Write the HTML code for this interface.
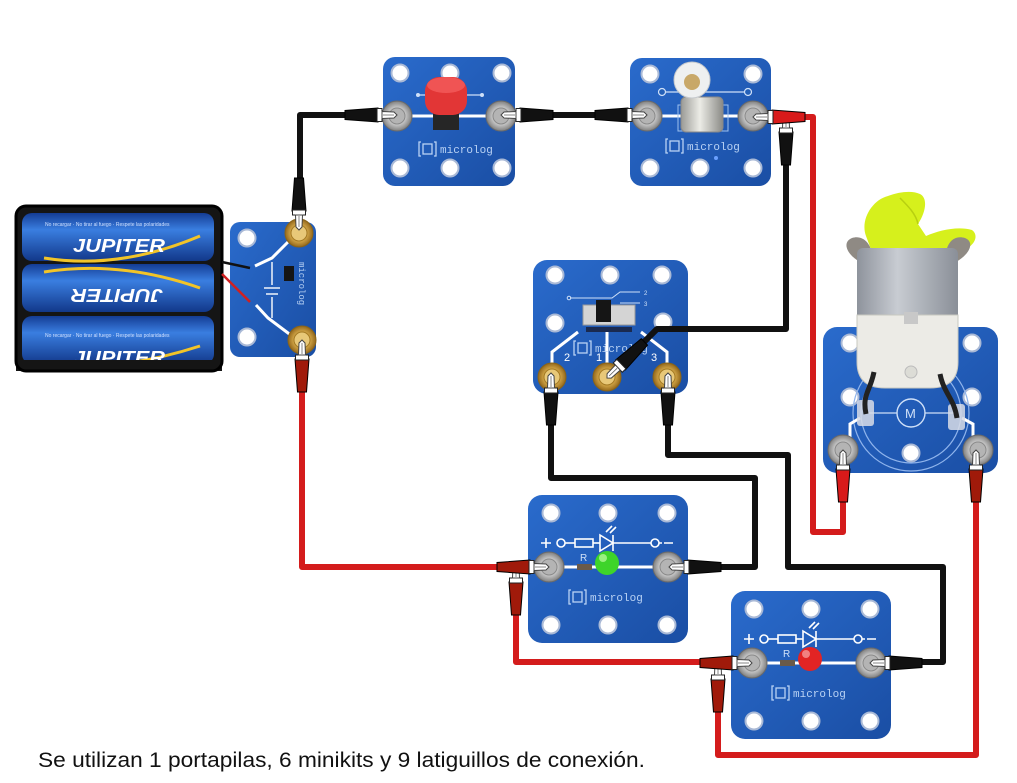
<!DOCTYPE html>
<html><head><meta charset="utf-8"><style>
html,body{margin:0;padding:0;background:#fff;}
svg{display:block;}
</style></head><body>
<svg width="1017" height="783" viewBox="0 0 1017 783" xmlns="http://www.w3.org/2000/svg" xmlns:xlink="http://www.w3.org/1999/xlink" font-family="Liberation Sans, sans-serif">
<defs>
 <linearGradient id="bl" x1="0" y1="0" x2="1" y2="1">
  <stop offset="0" stop-color="#2a6bcc"/><stop offset="1" stop-color="#1a4ea4"/>
 </linearGradient>
 <radialGradient id="silver"><stop offset="0" stop-color="#f2f2f2"/><stop offset="0.55" stop-color="#c9c9c9"/><stop offset="1" stop-color="#808080"/></radialGradient>
 <radialGradient id="gold"><stop offset="0" stop-color="#f6e0a0"/><stop offset="0.55" stop-color="#d6aa4a"/><stop offset="1" stop-color="#94681c"/></radialGradient>
 <linearGradient id="cell" x1="0" y1="0" x2="0" y2="1"><stop offset="0" stop-color="#143c94"/><stop offset="0.35" stop-color="#3a7ee0"/><stop offset="1" stop-color="#12388a"/></linearGradient>
 <linearGradient id="can" x1="0" y1="0" x2="1" y2="0"><stop offset="0" stop-color="#8e939c"/><stop offset="0.4" stop-color="#c8ccd2"/><stop offset="1" stop-color="#8a8f98"/></linearGradient>
 <linearGradient id="base" x1="0" y1="0" x2="1" y2="0"><stop offset="0" stop-color="#9a9a96"/><stop offset="0.45" stop-color="#ecece6"/><stop offset="1" stop-color="#8a8a86"/></linearGradient>

 <g id="pK">
  <polygon points="-19,-7 -52,-4.5 -52,4.5 -19,7" fill="#111" stroke="#000"/>
  <rect x="-20" y="-6.5" width="5" height="13" fill="#fff" stroke="#222" stroke-width="1"/>
  <path d="M-15,-3.5 L-3,-3 L0,0 L-3,3 L-15,3.5 Z" fill="#fff" stroke="#444" stroke-width="1"/>
  <line x1="-14" y1="0" x2="-3" y2="0" stroke="#666" stroke-width="0.8"/>
 </g>
 <g id="pR">
  <polygon points="-19,-7 -52,-4.5 -52,4.5 -19,7" fill="#d81a1a" stroke="#000"/>
  <rect x="-20" y="-6.5" width="5" height="13" fill="#fff" stroke="#222" stroke-width="1"/>
  <path d="M-15,-3.5 L-3,-3 L0,0 L-3,3 L-15,3.5 Z" fill="#fff" stroke="#444" stroke-width="1"/>
  <line x1="-14" y1="0" x2="-3" y2="0" stroke="#666" stroke-width="0.8"/>
 </g>
 <g id="pD">
  <polygon points="-19,-7 -52,-4.5 -52,4.5 -19,7" fill="#a01a0a" stroke="#000"/>
  <rect x="-20" y="-6.5" width="5" height="13" fill="#fff" stroke="#222" stroke-width="1"/>
  <path d="M-15,-3.5 L-3,-3 L0,0 L-3,3 L-15,3.5 Z" fill="#fff" stroke="#444" stroke-width="1"/>
  <line x1="-14" y1="0" x2="-3" y2="0" stroke="#666" stroke-width="0.8"/>
 </g>
 <g id="hole"><circle r="8.5" fill="#fff" stroke="#a9b9d6" stroke-width="2"/></g>
 <g id="tS"><circle r="15" fill="url(#silver)" stroke="#6a6a6a" stroke-width="1"/><circle r="8" fill="#b4b4b4" stroke="#8a8a8a"/></g>
 <g id="tG"><circle r="14" fill="url(#gold)" stroke="#8a6418" stroke-width="1"/><circle r="8" fill="#e8c878" stroke="#a47a24"/></g>
 <g id="logo">
  <rect x="3" y="-9" width="9" height="10" fill="none" stroke="#b9d2f4" stroke-width="1.3"/>
  <path d="M1,-11 L-1,-11 L-1,3 L1,3 M14,-11 L16,-11 L16,3 L14,3" fill="none" stroke="#b9d2f4" stroke-width="1.3"/>
  <text x="20" y="0" font-size="11" fill="#b9d2f4" font-family="Liberation Mono, monospace">microlog</text>
 </g>
 <g id="ledb">
  <rect x="0" y="0" width="160" height="148" rx="14" fill="url(#bl)"/>
  <use xlink:href="#hole" x="23" y="18"/><use xlink:href="#hole" x="80" y="18"/><use xlink:href="#hole" x="139" y="18"/>
  <use xlink:href="#hole" x="23" y="130"/><use xlink:href="#hole" x="80" y="130"/><use xlink:href="#hole" x="139" y="130"/>
  <g stroke="#fff" stroke-width="1.6" fill="none">
   <path d="M13,48 L23,48 M18,43 L18,53"/>
   <circle cx="33" cy="48" r="4"/>
   <path d="M37,48 L47,48"/>
   <rect x="47" y="44" width="18" height="8"/>
   <path d="M65,48 L72,48"/>
   <path d="M72,40 L72,56 L85,48 Z M85,40 L85,56 M78,37 L84,31 M82,38 L88,32"/>
   <path d="M85,48 L123,48"/>
   <circle cx="127" cy="48" r="4"/>
   <path d="M131,48 L134,48 M136,48 L145,48"/>
  </g>
  <text x="52" y="66" font-size="10" fill="#cfe0f8">R</text>
  <line x1="21" y1="72" x2="140" y2="72" stroke="#fff" stroke-width="3"/>
  <rect x="49" y="69" width="15" height="6" fill="#6a5a4a"/>
  <use xlink:href="#tS" x="21" y="72"/><use xlink:href="#tS" x="140" y="72"/>
  <use xlink:href="#logo" x="42" y="106"/>
 </g>
</defs>

<!-- Battery holder -->
<rect x="16" y="206" width="206" height="165" rx="10" fill="#151515"/>
<rect x="22" y="213" width="192" height="48" rx="10" fill="url(#cell)"/>
<rect x="22" y="264" width="192" height="48" rx="10" fill="url(#cell)"/>
<rect x="22" y="316" width="192" height="48" rx="10" fill="url(#cell)"/>
<text x="45" y="226" font-size="5" fill="#cfe0ff">No recargar · No tirar al fuego · Respete las polaridades</text>
<text x="45" y="337" font-size="5" fill="#cfe0ff">No recargar · No tirar al fuego · Respete las polaridades</text>
<path d="M44,258 Q120,270 200,236" stroke="#f2c428" stroke-width="3" fill="none"/>
<text x="73" y="252" font-size="18" font-weight="bold" font-style="italic" fill="#fff" textLength="92" lengthAdjust="spacingAndGlyphs">JUPITER</text>
<path d="M44,272 Q120,260 200,288" stroke="#f2c428" stroke-width="3" fill="none"/>
<text x="73" y="297" font-size="18" font-weight="bold" font-style="italic" fill="#fff" textLength="92" lengthAdjust="spacingAndGlyphs" transform="rotate(180 118 293)">JUPITER</text>
<text x="200" y="0" font-size="8" fill="#fff" transform="rotate(180 100 148)">+</text>
<path d="M44,366 Q120,372 200,346" stroke="#f2c428" stroke-width="3" fill="none"/>
<text x="73" y="364" font-size="18" font-weight="bold" font-style="italic" fill="#fff" textLength="92" lengthAdjust="spacingAndGlyphs">JUPITER</text>
<rect x="16" y="360" width="206" height="11" fill="#151515"/>
<rect x="16" y="206" width="206" height="165" rx="10" fill="none" stroke="#000" stroke-width="3"/>

<!-- Battery board -->
<rect x="230" y="222" width="86" height="135" rx="10" fill="url(#bl)"/>
<use xlink:href="#hole" x="247" y="238"/><use xlink:href="#hole" x="247" y="337"/>
<g stroke="#fff" stroke-width="3" fill="none">
 <polyline points="290,240 272,258 255,266"/>
 <polyline points="292,336 268,318 256,305"/>
</g>
<g stroke="#fff" stroke-width="1.4" fill="none">
 <line x1="272" y1="262" x2="272" y2="285"/><line x1="264" y1="288" x2="280" y2="288"/><line x1="266" y1="294" x2="278" y2="294"/><line x1="272" y1="297" x2="272" y2="318"/>
</g>
<rect x="284" y="266" width="10" height="15" fill="#151515"/>
<text x="0" y="0" font-size="9" fill="#b9d2f4" font-family="Liberation Mono, monospace" transform="translate(299,262) rotate(90)">microlog</text>
<path d="M222,262 L250,268" stroke="#111" stroke-width="2.5"/>
<path d="M222,274 L250,302" stroke="#d02020" stroke-width="2.5"/>
<use xlink:href="#tG" x="299" y="233"/><use xlink:href="#tG" x="302" y="340"/>

<!-- Push button board -->
<rect x="383" y="57" width="132" height="129" rx="12" fill="url(#bl)"/>
<use xlink:href="#hole" x="400" y="73"/><use xlink:href="#hole" x="450" y="73"/><use xlink:href="#hole" x="502" y="73"/>
<use xlink:href="#hole" x="400" y="168"/><use xlink:href="#hole" x="450" y="168"/><use xlink:href="#hole" x="502" y="168"/>
<line x1="418" y1="95" x2="482" y2="95" stroke="#cfe0f8" stroke-width="1.2"/>
<circle cx="418" cy="95" r="2" fill="#cfe0f8"/><circle cx="482" cy="95" r="2" fill="#cfe0f8"/>
<line x1="397" y1="116" x2="501" y2="116" stroke="#fff" stroke-width="3"/>
<rect x="433" y="108" width="26" height="22" fill="#262626"/>
<rect x="425" y="77" width="42" height="38" rx="14" fill="#e23636"/>
<ellipse cx="446" cy="85" rx="19" ry="8" fill="#f05454"/>
<use xlink:href="#tS" x="397" y="116"/><use xlink:href="#tS" x="501" y="116"/>
<use xlink:href="#logo" x="420" y="153"/>

<!-- Lamp board -->
<rect x="630" y="58" width="141" height="128" rx="12" fill="url(#bl)"/>
<use xlink:href="#hole" x="650" y="74"/><use xlink:href="#hole" x="753" y="74"/>
<use xlink:href="#hole" x="650" y="168"/><use xlink:href="#hole" x="700" y="168"/><use xlink:href="#hole" x="753" y="168"/>
<line x1="662" y1="92" x2="748" y2="92" stroke="#cfe0f8" stroke-width="1.2"/>
<circle cx="662" cy="92" r="3.5" fill="#2460b8" stroke="#cfe0f8" stroke-width="1.2"/>
<circle cx="748" cy="92" r="3.5" fill="#2460b8" stroke="#cfe0f8" stroke-width="1.2"/>
<line x1="647" y1="116" x2="753" y2="116" stroke="#fff" stroke-width="3"/>
<rect x="678" y="105" width="50" height="26" fill="none" stroke="#9cc0ee" stroke-width="1"/>
<rect x="681" y="97" width="42" height="35" rx="5" fill="url(#base)" stroke="#888"/>
<circle cx="692" cy="80" r="18" fill="#eef0f0" stroke="#c4c8cc"/>
<circle cx="692" cy="82" r="8" fill="#c8a868"/>
<use xlink:href="#tS" x="647" y="116"/><use xlink:href="#tS" x="753" y="116"/>
<use xlink:href="#logo" x="667" y="150"/>
<circle cx="716" cy="158" r="2" fill="#6aa0ff"/>

<!-- Switch board -->
<rect x="533" y="260" width="155" height="134" rx="14" fill="url(#bl)"/>
<use xlink:href="#hole" x="555" y="275"/><use xlink:href="#hole" x="610" y="275"/><use xlink:href="#hole" x="662" y="275"/>
<use xlink:href="#hole" x="555" y="323"/><use xlink:href="#hole" x="663" y="322"/>
<g stroke="#cfe0f8" stroke-width="1" fill="none">
 <path d="M570,298 L612,298 L620,292 L640,292"/>
 <path d="M620,303 L640,303"/>
 <circle cx="569" cy="298" r="1.8"/>
</g>
<text x="644" y="295" font-size="6" fill="#cfe0f8">2</text>
<text x="644" y="306" font-size="6" fill="#cfe0f8">3</text>
<rect x="583" y="305" width="52" height="20" fill="#d4d4d4" stroke="#999"/>
<rect x="596" y="300" width="15" height="22" fill="#151515"/>
<rect x="586" y="327" width="46" height="5" fill="#1a2a50"/>
<g stroke="#fff" stroke-width="3" fill="none">
 <polyline points="552,365 552,352 578,332"/>
 <polyline points="607,365 607,332"/>
 <polyline points="667,365 667,352 641,332"/>
</g>
<text x="564" y="361" font-size="11" fill="#fff">2</text>
<text x="596" y="361" font-size="11" fill="#fff">1</text>
<text x="651" y="361" font-size="11" fill="#fff">3</text>
<use xlink:href="#logo" x="575" y="352"/>
<use xlink:href="#tG" x="552" y="377"/><use xlink:href="#tG" x="607" y="377"/><use xlink:href="#tG" x="667" y="377"/>

<!-- LED boards -->
<use xlink:href="#ledb" x="528" y="495"/>
<circle cx="607" cy="563" r="12" fill="#3ed42a"/>
<circle cx="603" cy="558" r="4" fill="#9af080"/>
<use xlink:href="#ledb" x="731" y="591"/>
<circle cx="810" cy="659" r="12" fill="#e22424"/>
<circle cx="806" cy="654" r="4" fill="#f28080"/>

<!-- Motor board -->
<rect x="823" y="327" width="175" height="146" rx="14" fill="url(#bl)"/>
<use xlink:href="#hole" x="850" y="343"/><use xlink:href="#hole" x="972" y="343"/>
<use xlink:href="#hole" x="850" y="397"/><use xlink:href="#hole" x="972" y="397"/>
<use xlink:href="#hole" x="911" y="453"/>
<circle cx="911" cy="413" r="58" fill="none" stroke="#8fb4ec" stroke-width="1.2"/>
<circle cx="911" cy="413" r="50" fill="none" stroke="#8fb4ec" stroke-width="1.2"/>
<circle cx="911" cy="413" r="14" fill="none" stroke="#cfe0f8" stroke-width="1.4"/>
<text x="905" y="418" font-size="13" fill="#cfe0f8">M</text>
<path d="M868,413 L897,413 M925,413 L955,413" stroke="#cfe0f8" stroke-width="1.2"/>
<path d="M850,438 L850,424 L860,418 M973,438 L973,424 L962,418" stroke="#fff" stroke-width="3" fill="none"/>
<rect x="857" y="400" width="17" height="26" rx="3" fill="#d8dce6" opacity="0.85"/>
<rect x="948" y="404" width="17" height="26" rx="3" fill="#d8dce6" opacity="0.85"/>
<use xlink:href="#tS" x="843" y="450"/><use xlink:href="#tS" x="978" y="450"/>
<!-- motor -->
<path d="M866,236 C860,220 872,200 888,196 C898,192 912,190 920,194 C928,198 926,212 918,224 L926,236 C940,230 958,226 972,230 C980,236 974,248 958,252 L872,252 Z" fill="#d6f01c"/>
<path d="M900,198 C908,206 916,214 918,224" stroke="#b8d010" stroke-width="1.5" fill="none"/>
<path d="M860,262 C846,254 842,242 852,238 C864,234 874,246 872,262 Z" fill="#8f8a84"/>
<path d="M956,262 C970,254 975,242 965,238 C952,234 944,246 946,262 Z" fill="#8f8a84"/>
<rect x="857" y="248" width="101" height="72" rx="6" fill="url(#can)"/>
<path d="M857,315 L958,315 L958,362 Q958,388 930,388 L885,388 Q857,388 857,362 Z" fill="#ecebe6" stroke="#c8c8c0"/>
<rect x="904" y="312" width="14" height="12" fill="#c8c8c8"/>
<circle cx="911" cy="372" r="6" fill="#dcdcd6" stroke="#bbb"/>
<path d="M874,372 C870,392 862,394 866,414" stroke="#222" stroke-width="5" fill="none"/>
<path d="M940,374 C944,394 954,398 957,418" stroke="#222" stroke-width="5" fill="none"/>

<!-- Wires -->
<g fill="none" stroke-width="6" stroke-linejoin="round" stroke-linecap="round">
 <polyline stroke="#111" points="300,178 300,115 348,115"/>
 <polyline stroke="#111" points="550,115 596,115"/>
 <polyline stroke="#111" points="786,166 786,329 657,329 644,342"/>
 <polyline stroke="#111" points="551,424 551,478 755,478 755,567 722,567"/>
 <polyline stroke="#111" points="668,424 668,455 788,455 788,567 943,567 943,662 918,662"/>
 <polyline stroke="#d41c1c" points="804,117 813,117 813,532 843,532 843,502"/>
 <polyline stroke="#d41c1c" points="302,392 302,567 498,567"/>
 <polyline stroke="#d41c1c" points="516,614 516,662 700,662"/>
 <polyline stroke="#d41c1c" points="976,502 976,755 718,755 718,710"/>
</g>

<!-- Plugs -->
<use xlink:href="#pK" transform="translate(299,230) rotate(90)"/>
<use xlink:href="#pK" transform="translate(397,115)"/>
<use xlink:href="#pK" transform="translate(501,115) rotate(180)"/>
<use xlink:href="#pK" transform="translate(647,115)"/>
<use xlink:href="#pK" transform="translate(786,113) rotate(-90)"/>
<use xlink:href="#pR" transform="translate(753,117) rotate(180)"/>
<use xlink:href="#pD" transform="translate(302,340) rotate(-90)"/>
<use xlink:href="#pK" transform="translate(551,373) rotate(-90)"/>
<use xlink:href="#pK" transform="translate(607,378) rotate(136)"/>
<use xlink:href="#pK" transform="translate(668,373) rotate(-90)"/>
<use xlink:href="#pD" transform="translate(516,563) rotate(-90)"/>
<use xlink:href="#pD" transform="translate(549,567)"/>
<use xlink:href="#pK" transform="translate(669,567) rotate(180)"/>
<use xlink:href="#pR" transform="translate(843,450) rotate(-90)"/>
<use xlink:href="#pD" transform="translate(976,450) rotate(-90)"/>
<use xlink:href="#pD" transform="translate(718,660) rotate(-90)"/>
<use xlink:href="#pD" transform="translate(752,663)"/>
<use xlink:href="#pK" transform="translate(870,663) rotate(180)"/>

<!-- Caption -->
<text x="38" y="767" font-size="21" fill="#111" textLength="607" lengthAdjust="spacingAndGlyphs">Se utilizan 1 portapilas, 6 minikits y 9 latiguillos de conexión.</text>
</svg>
</body></html>
